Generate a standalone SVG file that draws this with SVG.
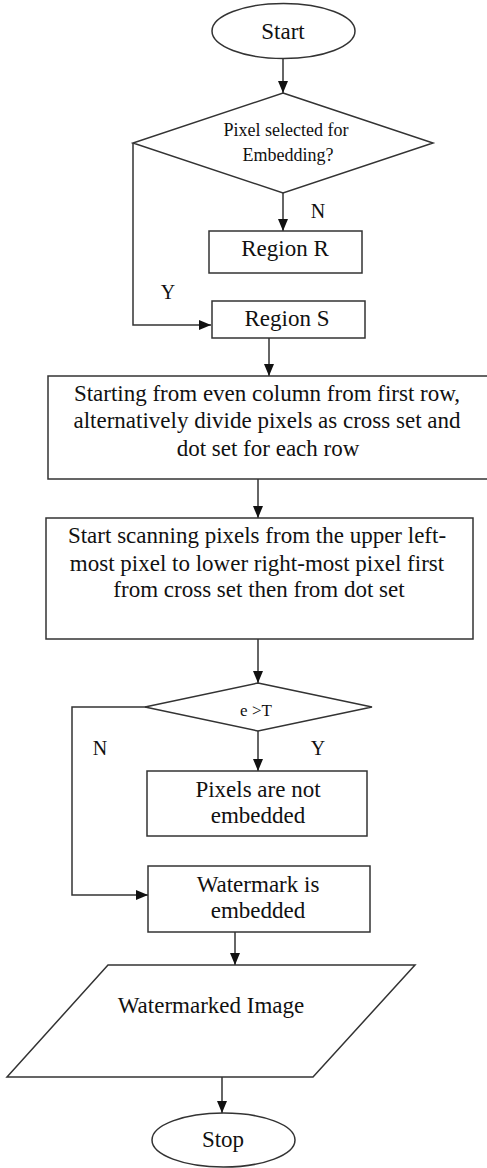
<svg xmlns="http://www.w3.org/2000/svg" width="487" height="1168" viewBox="0 0 487 1168" font-family="Liberation Serif, Times New Roman, DejaVu Serif, serif">
<style>
.s{fill:#fff;stroke:#333;stroke-width:1.5}
.c{fill:none;stroke:#333;stroke-width:1.5}
text{font-family:"Liberation Serif","Times New Roman","DejaVu Serif",serif;fill:#111;text-anchor:middle}
.t{font-size:23px}
.m{font-size:18px}
.l{font-size:20px}
</style>
<defs>
<marker id="ah" markerUnits="userSpaceOnUse" markerWidth="12" markerHeight="10" refX="12" refY="5" orient="auto">
<path d="M0,0 L12,5 L0,10 z" fill="#111"/>
</marker>
</defs>
<g id="connectors">
<path class="c" d="M283,58 V93" marker-end="url(#ah)"/>
<path class="c" d="M283,193 V231" marker-end="url(#ah)"/>
<path class="c" d="M133,143 V325 H211" marker-end="url(#ah)"/>
<path class="c" d="M269,338 V376" marker-end="url(#ah)"/>
<path class="c" d="M258,479 V518" marker-end="url(#ah)"/>
<path class="c" d="M258,639 V683" marker-end="url(#ah)"/>
<path class="c" d="M258,731 V771" marker-end="url(#ah)"/>
<path class="c" d="M146,707 H72 V895 H148" marker-end="url(#ah)"/>
<path class="c" d="M235,932 V965" marker-end="url(#ah)"/>
<path class="c" d="M222,1077 V1113" marker-end="url(#ah)"/>
<text class="l" x="318" y="218">N</text>
<text class="l" x="168" y="299">Y</text>
<text class="l" x="100" y="755">N</text>
<text class="l" x="318" y="755">Y</text>
</g>
<g id="start">
<ellipse class="s" cx="283.5" cy="31" rx="71.5" ry="27.5"/>
<text class="t" x="283" y="39">Start</text>
</g>
<g id="decision1">
<polygon class="s" points="283,93 433,143 283,193 133,143"/>
<text class="m" x="286" y="136">Pixel selected for</text>
<text class="m" x="288" y="161">Embedding?</text>
</g>
<g id="regionR">
<rect class="s" x="209" y="231" width="153" height="42"/>
<text class="t" x="285" y="256">Region R</text>
</g>
<g id="regionS">
<rect class="s" x="212" y="301" width="153" height="37"/>
<text class="t" x="287" y="326">Region S</text>
</g>
<g id="divide">
<rect class="s" x="48" y="376" width="460" height="103"/>
<text class="t" x="267" y="401">Starting from even column from first row,</text>
<text class="t" x="267" y="428">alternatively divide pixels as cross set and</text>
<text class="t" x="268" y="456">dot set for each row</text>
</g>
<g id="scan">
<rect class="s" x="46" y="518" width="427" height="121"/>
<text class="t" x="257" y="543">Start scanning pixels from the upper left-</text>
<text class="t" x="257" y="571">most pixel to lower right-most pixel first</text>
<text class="t" x="259" y="597">from cross set then from dot set</text>
</g>
<g id="decision2">
<polygon class="s" points="258,683 372,707 258,731 145,707"/>
<text x="256" y="716" style="font-size:17px">e &gt;T</text>
</g>
<g id="notEmbedded">
<rect class="s" x="147" y="771" width="220" height="65"/>
<text class="t" x="258" y="797">Pixels are not</text>
<text class="t" x="258" y="823">embedded</text>
</g>
<g id="embedded">
<rect class="s" x="148" y="866" width="222" height="66"/>
<text class="t" x="258" y="892">Watermark is</text>
<text class="t" x="258" y="918">embedded</text>
</g>
<g id="output">
<polygon class="s" points="108,965 415,965 313,1077 7,1077"/>
<text class="t" x="211" y="1013">Watermarked Image</text>
</g>
<g id="stop">
<ellipse class="s" cx="223.5" cy="1140" rx="71.5" ry="27"/>
<text class="t" x="223" y="1147">Stop</text>
</g>
</svg>
